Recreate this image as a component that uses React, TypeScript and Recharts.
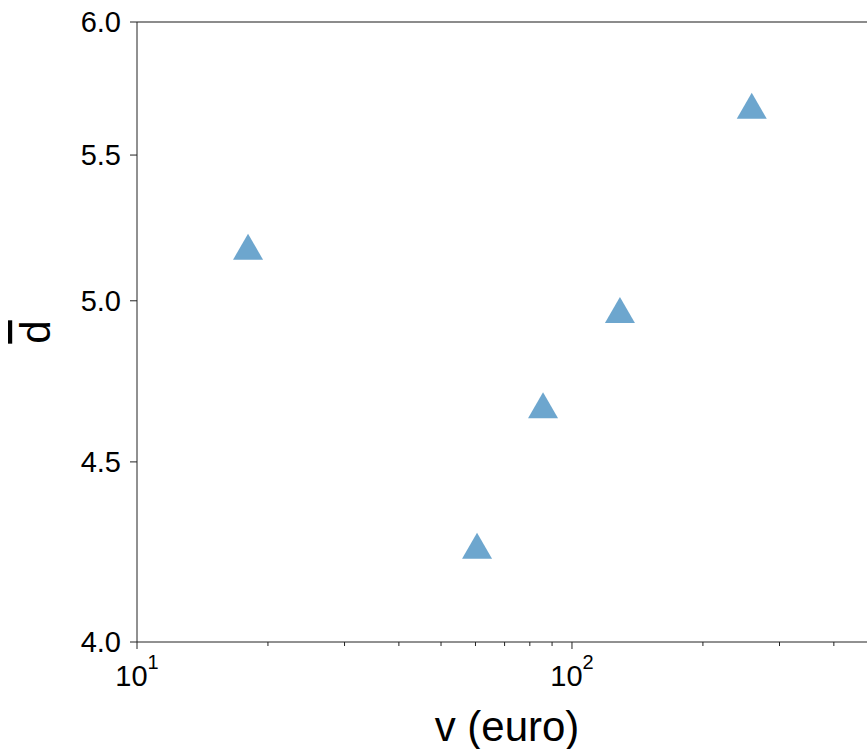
import { ScatterChart, Scatter, XAxis, YAxis, ReferenceLine } from "recharts";

// values
const price = [18.0, 60.5, 85.8, 128.9, 259];
const dMean = [5.18, 4.26, 4.67, 4.97, 5.68];

const xTicks = [10, 20, 30, 40, 50, 60, 70, 80, 90, 100, 200, 300, 400];
const xMajor: Record<number, string> = { 10: "1", 100: "2" };
const yTicks = [4, 4.5, 5, 5.5, 6];

const points = price.map((v, i) => ({ v, d: dMean[i] }));

const FONT = "'Liberation Sans', Arial, sans-serif";

function XTick(props: any) {
  const { x, y, payload } = props;
  const exp = xMajor[payload.value];
  return (
    <g>
      <line x1={x} x2={x} y1={y} y2={y + (exp ? 7 : 4)} stroke="#222" strokeWidth={1} />
      {exp && (
        <text x={x} y={y + 44} textAnchor="middle" fontSize={29} fontFamily={FONT} fill="#000">
          10
          <tspan dy={-17} fontSize={20}>
            {exp}
          </tspan>
        </text>
      )}
    </g>
  );
}

function YTick(props: any) {
  const { x, y, payload } = props;
  return (
    <g>
      <line x1={x - 7} x2={x} y1={y} y2={y} stroke="#222" strokeWidth={1} />
      <text x={x - 16} y={y + 10} textAnchor="end" fontSize={29} fontFamily={FONT} fill="#000">
        {payload.value.toFixed(1)}
      </text>
    </g>
  );
}

function Triangle(props: any) {
  const { cx, cy } = props;
  const w = 15;
  const h = 13;
  return (
    <polygon
      points={`${cx},${cy - h} ${cx - w},${cy + h} ${cx + w},${cy + h}`}
      fill="#1f77b4"
      fillOpacity={0.65}
    />
  );
}

export default function App() {
  return (
    <div style={{ position: "absolute", left: 0, top: 0, width: 867, height: 749, overflow: "hidden", background: "#fff" }}>
      <ScatterChart width={900} height={749} margin={{ top: 22, right: 24, bottom: 0, left: 0 }}>
        <XAxis
          dataKey="v"
          type="number"
          scale="log"
          domain={[10, 500]}
          ticks={xTicks}
          interval={0}
          allowDataOverflow
          height={107}
          tickSize={0}
          tickMargin={0}
          tick={<XTick />}
          stroke="#222"
          label={{
            content: () => (
              <text x={507} y={741} textAnchor="middle" fontSize={42} fontFamily={FONT} fill="#000">
                v (euro)
              </text>
            ),
          }}
        />
        <YAxis
          dataKey="d"
          type="number"
          scale="log"
          domain={[4, 6]}
          ticks={yTicks}
          interval={0}
          allowDataOverflow
          width={137}
          tickSize={0}
          tickMargin={0}
          tick={<YTick />}
          stroke="#222"
          label={{
            content: () => (
              <text
                transform="translate(50,332) rotate(-90)"
                textAnchor="middle"
                fontSize={42}
                fontFamily={FONT}
                fill="#000"
                textDecoration="overline"
                style={{ textDecoration: "overline" }}
              >
                d
              </text>
            ),
          }}
        />
        <ReferenceLine y={6} stroke="#666" strokeWidth={1.5} />
        <Scatter data={points} shape={<Triangle />} isAnimationActive={false} />
      </ScatterChart>
    </div>
  );
}
